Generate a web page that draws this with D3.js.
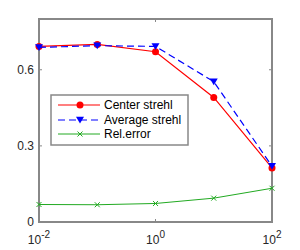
<!DOCTYPE html>
<html><head><meta charset="utf-8">
<script src="https://cdn.jsdelivr.net/npm/d3@7"></script>
<style>body{margin:0;background:#fff}svg{display:block}text{font-family:"Liberation Sans",Arial,sans-serif}</style>
</head><body>
<script>
const xValues = [0.01, 0.1, 1, 10, 100];
const centerStrehl = [0.692, 0.700, 0.671, 0.491, 0.213];
const averageStrehl = [0.688, 0.695, 0.692, 0.553, 0.220];
const relError = [0.069, 0.068, 0.073, 0.094, 0.133];
const xTicks = [0.01, 1, 100];
const xTickExp = ["-2", "0", "2"];
const yTicks = [0, 0.3, 0.6];
const yTickLabels = ["0", "0.3", "0.6"];
const seriesNames = ["Center strehl", "Average strehl", "Rel.error"];

const W = 300, H = 250;
const svg = d3.select("body").append("svg").attr("width", W).attr("height", H);
const L = 39, R = 272, T = 19, B = 222;
const x = d3.scaleLog().domain([0.01, 100]).range([L, R]);
const y = d3.scaleLinear().domain([0, 0.8]).range([B, T]);
const axisColor = "#888";

// ticks (inward)
const g = svg.append("g");
xTicks.forEach((t, i) => {
  g.append("line").attr("x1", x(t)).attr("x2", x(t)).attr("y1", B).attr("y2", B - 3).attr("stroke", axisColor);
  g.append("line").attr("x1", x(t)).attr("x2", x(t)).attr("y1", T).attr("y2", T + 3).attr("stroke", axisColor);
  const tx = g.append("text").attr("x", x(t)).attr("y", 244).attr("text-anchor", "middle").attr("font-size", 12).attr("fill", "#262626");
  tx.append("tspan").text("10");
  tx.append("tspan").attr("dy", -6).attr("font-size", 10).text(xTickExp[i]);
});
yTicks.forEach((t, i) => {
  g.append("line").attr("x1", L).attr("x2", L + 3).attr("y1", y(t)).attr("y2", y(t)).attr("stroke", axisColor);
  g.append("line").attr("x1", R).attr("x2", R - 3).attr("y1", y(t)).attr("y2", y(t)).attr("stroke", axisColor);
  g.append("text").attr("x", 34).attr("y", y(t) + 4).attr("text-anchor", "end").attr("font-size", 12).attr("fill", "#262626").text(yTickLabels[i]);
});
g.append("rect").attr("x", L).attr("y", T).attr("width", R - L).attr("height", B - T).attr("fill", "none").attr("stroke", axisColor).attr("stroke-width", 2);

const line = d3.line().x((d, i) => x(xValues[i])).y(d => y(d));

// green
svg.append("path").attr("d", line(relError)).attr("fill", "none").attr("stroke", "#22aa22").attr("stroke-width", 1);
function xMark(sel, cx, cy, s, c) {
  sel.append("path").attr("d", `M${cx - s},${cy - s}L${cx + s},${cy + s}M${cx - s},${cy + s}L${cx + s},${cy - s}`).attr("stroke", c).attr("stroke-width", 1);
}
relError.forEach((v, i) => xMark(svg, x(xValues[i]), y(v), 2.5, "#22aa22"));

// red
svg.append("path").attr("d", line(centerStrehl)).attr("fill", "none").attr("stroke", "#ff0000").attr("stroke-width", 1.2);
centerStrehl.forEach((v, i) => svg.append("circle").attr("cx", x(xValues[i])).attr("cy", y(v)).attr("r", 3.5).attr("fill", "#ff0000"));

// blue
svg.append("path").attr("d", line(averageStrehl)).attr("fill", "none").attr("stroke", "#0000ff").attr("stroke-width", 1.2).attr("stroke-dasharray", "7,4");
const tri = (cx, cy, s) => `M${cx - s},${cy - s * 0.8}L${cx + s},${cy - s * 0.8}L${cx},${cy + s * 0.9}Z`;
averageStrehl.forEach((v, i) => svg.append("path").attr("d", tri(x(xValues[i]), y(v), 4)).attr("fill", "#0000ff"));

// legend
const lg = svg.append("g");
lg.append("rect").attr("x", 51).attr("y", 95).attr("width", 137).attr("height", 50).attr("fill", "#fff").attr("stroke", axisColor).attr("stroke-width", 1.5);
const rows = [105, 120, 134];
const lx1 = 58, lx2 = 100, mx = 80;
lg.append("line").attr("x1", lx1).attr("x2", lx2).attr("y1", rows[0]).attr("y2", rows[0]).attr("stroke", "#ff0000").attr("stroke-width", 1.2);
lg.append("circle").attr("cx", mx).attr("cy", rows[0]).attr("r", 3.5).attr("fill", "#ff0000");
lg.append("line").attr("x1", lx1).attr("x2", lx2).attr("y1", rows[1]).attr("y2", rows[1]).attr("stroke", "#0000ff").attr("stroke-width", 1.2).attr("stroke-dasharray", "7,4");
lg.append("path").attr("d", tri(mx, rows[1], 4)).attr("fill", "#0000ff");
lg.append("line").attr("x1", lx1).attr("x2", lx2).attr("y1", rows[2]).attr("y2", rows[2]).attr("stroke", "#22aa22").attr("stroke-width", 1);
xMark(lg, mx, rows[2], 2.5, "#22aa22");
seriesNames.forEach((n, i) => lg.append("text").attr("x", 104).attr("y", rows[i] + 4).attr("font-size", 12).attr("fill", "#000").text(n));
</script>
</body></html>
